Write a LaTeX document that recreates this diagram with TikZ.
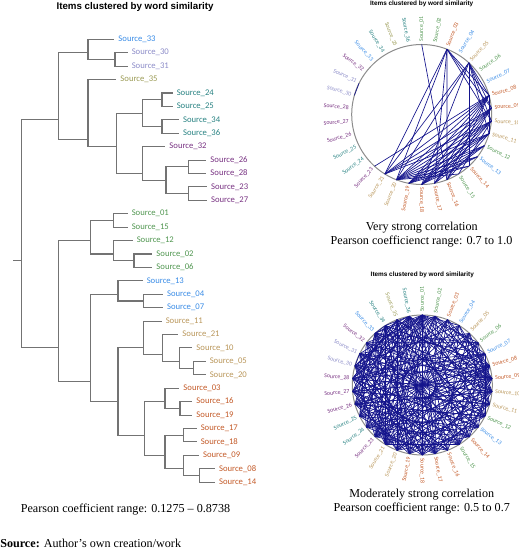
\documentclass[tikz,border=0pt]{standalone}
\usepackage{fontspec}
\setmainfont{Liberation Serif}
\newfontfamily\labelfont{Carlito}
\newfontfamily\headfont{Liberation Sans}

\definecolor{srcblue}{RGB}{58,140,230}
\definecolor{srclav}{RGB}{140,140,200}
\definecolor{srcolive}{RGB}{155,155,85}
\definecolor{srcteal}{RGB}{40,130,130}
\definecolor{srcpurple}{RGB}{120,50,130}
\definecolor{srcgreen}{RGB}{80,150,80}
\definecolor{srctan}{RGB}{185,150,90}
\definecolor{srcrust}{RGB}{195,90,40}
\definecolor{treegray}{RGB}{115,115,115}
\definecolor{ringgray}{RGB}{140,140,140}
\definecolor{chordblue}{RGB}{20,20,140}

\begin{document}
\begin{tikzpicture}[
    x=.75pt,y=-.75pt,
    branch/.style={draw=treegray,line width=.8pt},
    leaf/.style={anchor=west,inner xsep=3pt,inner ysep=1pt,
        font=\labelfont\fontsize{6.5}{7}\selectfont},
    ring/.style={draw=ringgray,line width=.75pt},
    chord/.style={draw=chordblue,line width=.5pt},
    spoke/.style={inner sep=0pt,font=\labelfont\fontsize{4.4}{5}\selectfont},
    heading/.style={font=\headfont\bfseries\fontsize{7.3}{8}\selectfont},
    ringhead/.style={font=\headfont\bfseries\fontsize{4.8}{5}\selectfont},
    caption/.style={font=\fontsize{9.1}{11}\selectfont}
]
    \useasboundingbox (0,0) rectangle (520,549);

    % dendrogram: leaves by row, merges at (height, mean row)
    \node[heading] (treehead) at (135,7) {Items clustered by word similarity};
    \begin{scope}[shift={(0,39.3)},y=-10.065pt]
        \foreach \name/\i/\x/\col in {
            33/0/114.2/srcblue, 30/1/127.5/srclav, 31/2/127.5/srclav, 35/3/116.2/srcolive,
            24/4/172.5/srcteal, 25/5/172.5/srcteal, 34/6/178.8/srcteal, 36/7/178.8/srcteal,
            32/8/165.2/srcpurple, 26/9/206.2/srcpurple, 28/10/206.2/srcpurple,
            23/11/206.8/srcpurple, 27/12/206.8/srcpurple,
            01/13/127.5/srcgreen, 15/14/127.5/srcgreen, 12/15/132.5/srcgreen,
            02/16/152.2/srcgreen, 06/17/152.2/srcgreen,
            13/18/142.5/srcblue, 04/19/162.8/srcblue, 07/20/162.8/srcblue,
            11/21/161.5/srctan, 21/22/178.2/srctan, 10/23/192.2/srctan,
            05/24/205.5/srctan, 20/25/205.5/srctan,
            03/26/179.2/srcrust, 16/27/192.2/srcrust, 19/28/192.2/srcrust,
            17/29/196.5/srcrust, 18/30/196.5/srcrust, 09/31/198.8/srcrust,
            08/32/214.8/srcrust, 14/33/214.8/srcrust}
            \node[leaf,text=\col] (s\name) at (\x,\i) {Source\_\name};

        \foreach \name/\x/\i in {
            stub/13.3/16.5, root/21.3/16.5,
            m1/58.7/6, m2/88/1, m3/115/1.5, m4/88/7.5, m5/116.7/8,
            m6/142.7/5.5, m7/162/4.5, m8/162/6.5, m9/142.7/10, m10/166/10.5,
            m11/188.7/9.5, m12/188.7/11.5,
            m13/58.7/23, m14/90.7/15, m15/113.3/13.5, m16/113.3/16, m17/134/16.5,
            m18/90.7/25.5, m19/118/19, m20/143.7/19.5, m21/118/27,
            m22/143.7/23, m23/162.7/23.5, m24/179.7/24, m25/193.7/24.5,
            m26/144.3/29.5, m27/165/27, m28/180/27.5, m29/165/31,
            m30/183.3/29.5, m31/183.3/32, m32/199.3/32.5}
            \coordinate (\name) at (\x,\i);

        \draw[branch] (stub) -- (root);
        \foreach \p/\c in {
            root/m1, root/m13, m1/m2, m1/m4, m2/s33, m2/m3, m3/s30, m3/s31,
            m4/s35, m4/m5, m5/m6, m5/m9, m6/m7, m6/m8, m7/s24, m7/s25,
            m8/s34, m8/s36, m9/s32, m9/m10, m10/m11, m10/m12,
            m11/s26, m11/s28, m12/s23, m12/s27,
            m13/m14, m13/m18, m14/m15, m14/m16, m15/s01, m15/s15,
            m16/s12, m16/m17, m17/s02, m17/s06,
            m18/m19, m18/m21, m19/s13, m19/m20, m20/s04, m20/s07,
            m21/m22, m21/m26, m22/s11, m22/m23, m23/s21, m23/m24,
            m24/s10, m24/m25, m25/s05, m25/s20,
            m26/m27, m26/m29, m27/s03, m27/m28, m28/s16, m28/s19,
            m29/m30, m29/m31, m30/s17, m30/s18, m31/s09, m31/m32,
            m32/s08, m32/s14}
            \draw[branch] (\p) |- (\c);
    \end{scope}

    % two chord rings, same source order clockwise from the top
    \foreach \c/\cx/\cy/\ty in {A/421.7/114.5/4, B/422.3/385/275.3} {
        \node[ringhead] (head\c) at (\cx,\ty) {Items clustered by word similarity};
        \begin{scope}[shift={(\cx,\cy)},y=.75pt]
            \draw[ring] (0,0) circle (70);
            \begin{scope}
                \clip (-100,-100) rectangle (96,100);
                \foreach \src/\col [count=\k from 0] in {
                    01/srcgreen, 02/srcgreen, 03/srcrust, 04/srcblue, 05/srctan,
                    06/srcgreen, 07/srcblue, 08/srcrust, 09/srcrust, 10/srctan,
                    11/srctan, 12/srcgreen, 13/srcblue, 14/srcrust, 15/srcgreen,
                    16/srcrust, 17/srcrust, 18/srcrust, 19/srcrust, 20/srctan,
                    21/srctan, 23/srcpurple, 24/srcteal, 25/srcteal, 26/srcpurple,
                    27/srcpurple, 28/srcpurple, 30/srclav, 31/srclav, 32/srcpurple,
                    33/srcblue, 34/srcteal, 35/srcolive, 36/srcteal} {
                    \pgfmathsetmacro\ang{90-360/34*\k}
                    \coordinate (\c-\k) at (\ang:70);
                    \ifnum\k<18
                        \node[spoke,text=\col,anchor=west,rotate=\ang] (\c-l\k) at (\ang:73) {Source\_\src};
                    \else
                        \node[spoke,text=\col,anchor=east,rotate=\ang+180] (\c-l\k) at (\ang:73) {Source\_\src};
                    \fi
                }
            \end{scope}
        \end{scope}
    }

    % strong pairs (0.7 to 1.0)
    \foreach \a/\blist in {
        0/{15}, 2/{7,8,9,15,16,19,20}, 4/{7,8,9,10,13,17,19,20},
        7/{10,15,16,17,18,19,20,21}, 8/{15,16,17,18,19,20}, 9/{14,16,17,18,19,20},
        10/{15,17,18,19,20}, 11/{16,17,18,19}, 12/{17,18,19}, 13/{18,19},
        14/{19}, 27/{28}}
        \foreach \b in \blist
            \draw[chord] (A-\a) -- (A-\b);

    % moderate pairs (0.5 to 0.7)
    \foreach \a/\blist in {
        0/{3,5,7,9,11,13,15,16,17,18,19,20,21,22,23,25,26,27,28,30},
        1/{6,8,10,14,16,18,20,21,24,26,29}, 2/{7,9,12,17,19,21,22,25},
        3/{8,10,15,18,20,23,27}, 4/{9,11,14,16,19,21,24,28},
        5/{10,13,17,20,22,26,29}, 6/{11,15,18,21,23,25,27,30},
        7/{12,14,16,19,20,21,22,24,26,28,31}, 8/{13,17,19,21,23,25,27,29,32},
        9/{14,18,20,22,24,26,30}, 10/{16,19,21,23,25,28}, 11/{17,20,22,24,27,31},
        12/{18,21,23,26,29}, 13/{19,22,25,28,33}, 14/{20,23,27,30},
        15/{21,24,26,31}, 16/{22,25,29,32}, 17/{23,27,30,33}, 18/{24,28,31},
        19/{25,27,32}, 20/{26,29,33}, 21/{27,30}, 22/{28,31}, 23/{29,33},
        24/{30,7,9,11,13}, 25/{31,8,10,14}, 26/{32,6,9,12,15}, 27/{28,33,10,16},
        28/{8,11,17,20}, 29/{9,13,18}, 30/{31,33,5,8,12,16,19,20,21,23},
        31/{33,7,11,14,18,20,22}, 32/{9,12,15,18,20,21,24,26},
        33/{8,10,14,16,19,21,23,25,27}}
        \foreach \b in \blist
            \draw[chord] (B-\a) -- (B-\b);

    \node[caption] (strongcap) at (421.7,228) {Very strong correlation};
    \node[caption] (strongrange) at (421.5,241.7) {Pearson coefficienct range: 0.7 to 1.0};
    \node[caption] (modcap) at (421.7,494.3) {Moderately strong correlation};
    \node[caption] (modrange) at (421.7,508.7) {Pearson coefficient range: 0.5 to 0.7};
    \node[caption] (treerange) at (125.5,510) {Pearson coefficient range: 0.1275 -- 0.8738};
    \node[caption,anchor=west,inner sep=0pt] (credit) at (0,543)
        {\textbf{Source:} Author's own creation/work};
\end{tikzpicture}
\end{document}
